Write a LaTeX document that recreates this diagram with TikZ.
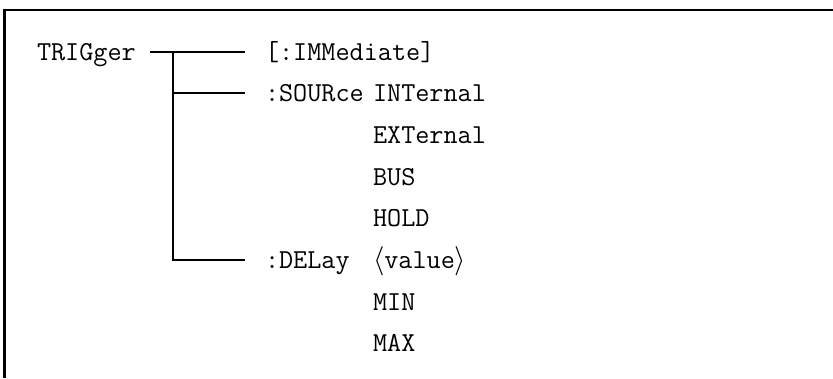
\documentclass[tikz,border=0pt]{standalone}
\usetikzlibrary{positioning}
\begin{document}
\begin{tikzpicture}[x=0.025cm, y=-0.025cm,
        cmd/.style={anchor=text, inner sep=0pt, text height=16.8pt, text depth=4.9pt, font=\ttfamily\fontsize{19.5}{20}\selectfont},
        tree/.style={line width=0.05cm},
        link/.style={tree, shorten >=0.5cm}
    ]
    \useasboundingbox (0,0) rectangle (833,378);
    % frame, cut off at right and bottom
    \draw[tree] (4.5,378) -- (4.5,10) -- (833,10);
    % command tree
    \node[cmd] (trig) at (37,60.5) {TRIGger};
    \node[cmd] (imm) at (265,60.5) {[:IMMediate]};
    \node[cmd] (src) at (265,101.5) {:SOURce};
    \node[cmd] (dly) at (265,268.5) {:DELay};
    \coordinate (fork) at (173,52);
    % parameters
    \node[cmd] (int) at (373,101.5) {INTernal};
    \node[cmd] (ext) at (373,143.5) {EXTernal};
    \node[cmd] (bus) at (373,185.5) {BUS};
    \node[cmd] (hold) at (373,226.5) {HOLD};
    \node[cmd] (val) at (373,268.5) {$\langle$value$\rangle$};
    \node[cmd] (min) at (373,310.5) {MIN};
    \node[cmd] (max) at (373,351.5) {MAX};
    \draw[link, shorten <=0.35cm] (trig.east) -- (imm.west);
    \draw[link] (fork) |- (src.west);
    \draw[link] (fork) |- (dly.west);
\end{tikzpicture}
\end{document}
